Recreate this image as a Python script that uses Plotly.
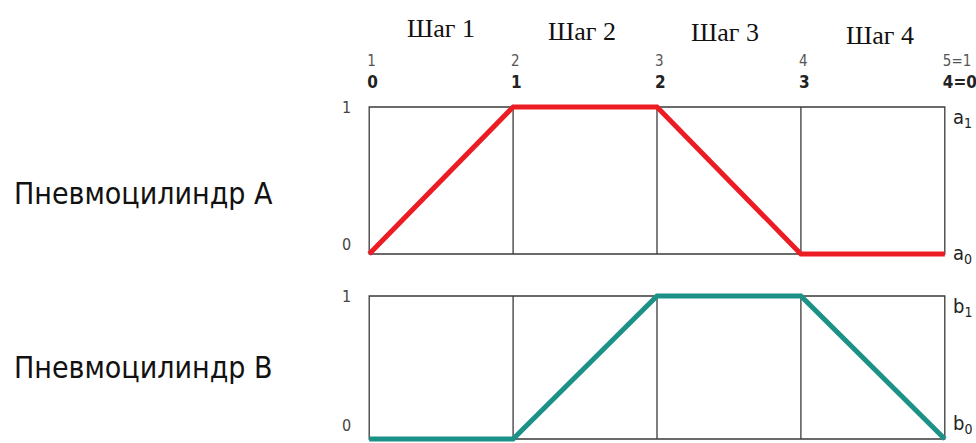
import plotly.graph_objects as go

# Step positions along the cycle (x) and the state of each cylinder
steps = [0, 1, 2, 3, 4]
cyl_a = [0, 1, 1, 0, 0]
cyl_b = [0, 0, 1, 1, 0]

step_titles = ["Шаг 1", "Шаг 2", "Шаг 3", "Шаг 4"]
step_title_x = [0.5, 1.5, 2.5, 3.5]
step_title_top = [12, 15, 16, 19]      # top of each title, px from the page top
step_title_dx = [0, -3, -4, 7]
state_labels = ["1", "2", "3", "4", "5=1"]
phase_labels = ["0", "1", "2", "3", "4=0"]

RED = "#ec1c24"
TEAL = "#1b9188"
GRID = "#3a3a3a"
SANS = "DejaVu Sans Condensed, Noto Sans, sans-serif"
SERIF = "Liberation Serif, Times New Roman, serif"

W, H = 976, 443
ML, MR, MT, MB = 362, 24, 100, 0
PW, PH = W - ML - MR, H - MT - MB

fig = go.Figure()

fig.add_trace(go.Scatter(x=steps, y=cyl_a, mode="lines", xaxis="x", yaxis="y",
                         line=dict(color=RED, width=5), hoverinfo="skip", showlegend=False))
fig.add_trace(go.Scatter(x=steps, y=cyl_b, mode="lines", xaxis="x2", yaxis="y2",
                         line=dict(color=TEAL, width=5), hoverinfo="skip", showlegend=False))
# empty trace so the upper state-number axis is drawn
fig.add_trace(go.Scatter(x=[None], y=[None], xaxis="x3", yaxis="y",
                         showlegend=False, hoverinfo="skip"))

# boxes and step separators for both diagrams
shapes = []
for xa, ya in (("x", "y"), ("x2", "y2")):
    shapes.append(dict(type="rect", xref=xa, yref=ya, x0=0, x1=4, y0=0, y1=1,
                       line=dict(color=GRID, width=1.3), layer="below"))
    for s in steps[1:-1]:
        shapes.append(dict(type="line", xref=xa, yref=ya, x0=s, x1=s, y0=0, y1=1,
                           line=dict(color=GRID, width=1.3), layer="below"))

xr = [-0.05, 4.05]
axis_common = dict(showgrid=False, zeroline=False, showline=False, ticks="")

fig.update_layout(
    width=W, height=H,
    margin=dict(l=ML, r=MR, t=MT, b=MB),
    paper_bgcolor="white", plot_bgcolor="white",
    shapes=shapes,
    xaxis=dict(range=xr, domain=[0, 1], anchor="y", side="top",
               tickvals=steps, ticktext=phase_labels,
               ticklabelposition="outside right", ticklabeloverflow="allow",
               ticklabelshift=-2, ticklabelstandoff=8,
               tickfont=dict(family=SANS, size=17, color="#222", weight=600), **axis_common),
    xaxis3=dict(range=xr, overlaying="x", anchor="y", side="top",
                tickvals=steps, ticktext=state_labels,
                ticklabelposition="outside right", ticklabeloverflow="allow",
                ticklabelshift=-2, ticklabelstandoff=30,
                tickfont=dict(family=SANS, size=15, color="#555"), **axis_common),
    xaxis2=dict(range=xr, domain=[0, 1], anchor="y2", showticklabels=False, **axis_common),
    yaxis=dict(range=[-0.0476, 1.0476], domain=[0.5306, 1], showticklabels=False, **axis_common),
    yaxis2=dict(range=[-0.028, 1.049], domain=[0, 0.449], showticklabels=False, **axis_common),
)

ann = []
# step titles above the boxes
for t, x, top, dx in zip(step_titles, step_title_x, step_title_top, step_title_dx):
    ann.append(dict(text=t, x=x, xref="x", y=1, yref="paper", yanchor="top",
                    yshift=MT - top, xshift=dx, showarrow=False,
                    font=dict(family=SERIF, size=26, color="#111")))

# level labels on the left of each box
lvl_font = dict(family=SANS, size=16, color="#444")
ann += [
    dict(text="1", x=0, xref="x", y=1, yref="y", xanchor="right", xshift=-16, yanchor="middle", showarrow=False, font=lvl_font),
    dict(text="0", x=0, xref="x", y=0, yref="y", xanchor="right", xshift=-16, yanchor="bottom", yshift=-2, showarrow=False, font=lvl_font),
    dict(text="1", x=0, xref="x2", y=1, yref="y2", xanchor="right", xshift=-16, yanchor="middle", showarrow=False, font=lvl_font),
    dict(text="0", x=0, xref="x2", y=0, yref="y2", xanchor="right", xshift=-16, yanchor="bottom", yshift=2, showarrow=False, font=lvl_font),
]

# end-position labels on the right
end_font = dict(family=SANS, size=20, color="#222")
ann += [
    dict(text="a<sub>1</sub>", x=4, xref="x", y=1, yref="y", xanchor="left", xshift=6, yanchor="top", yshift=4, showarrow=False, font=end_font),
    dict(text="a<sub>0</sub>", x=4, xref="x", y=0, yref="y", xanchor="left", xshift=6, yanchor="middle", showarrow=False, font=end_font),
    dict(text="b<sub>1</sub>", x=4, xref="x2", y=1, yref="y2", xanchor="left", xshift=6, yanchor="top", yshift=4, showarrow=False, font=end_font),
    dict(text="b<sub>0</sub>", x=4, xref="x2", y=0, yref="y2", xanchor="left", xshift=6, yanchor="bottom", showarrow=False, font=end_font),
]

# cylinder names, placed by pixel position on the page
name_font = dict(family=SANS, size=30, color="#111")
for label, ypx in (("Пневмоцилиндр А", 193), ("Пневмоцилиндр В", 367)):
    ann.append(dict(text=label, x=(12 - ML) / PW, xref="paper", y=(H - MB - ypx) / PH, yref="paper",
                    showarrow=False, xanchor="left", yanchor="middle", font=name_font))

fig.update_layout(annotations=ann)
fig.write_html("out.html")
